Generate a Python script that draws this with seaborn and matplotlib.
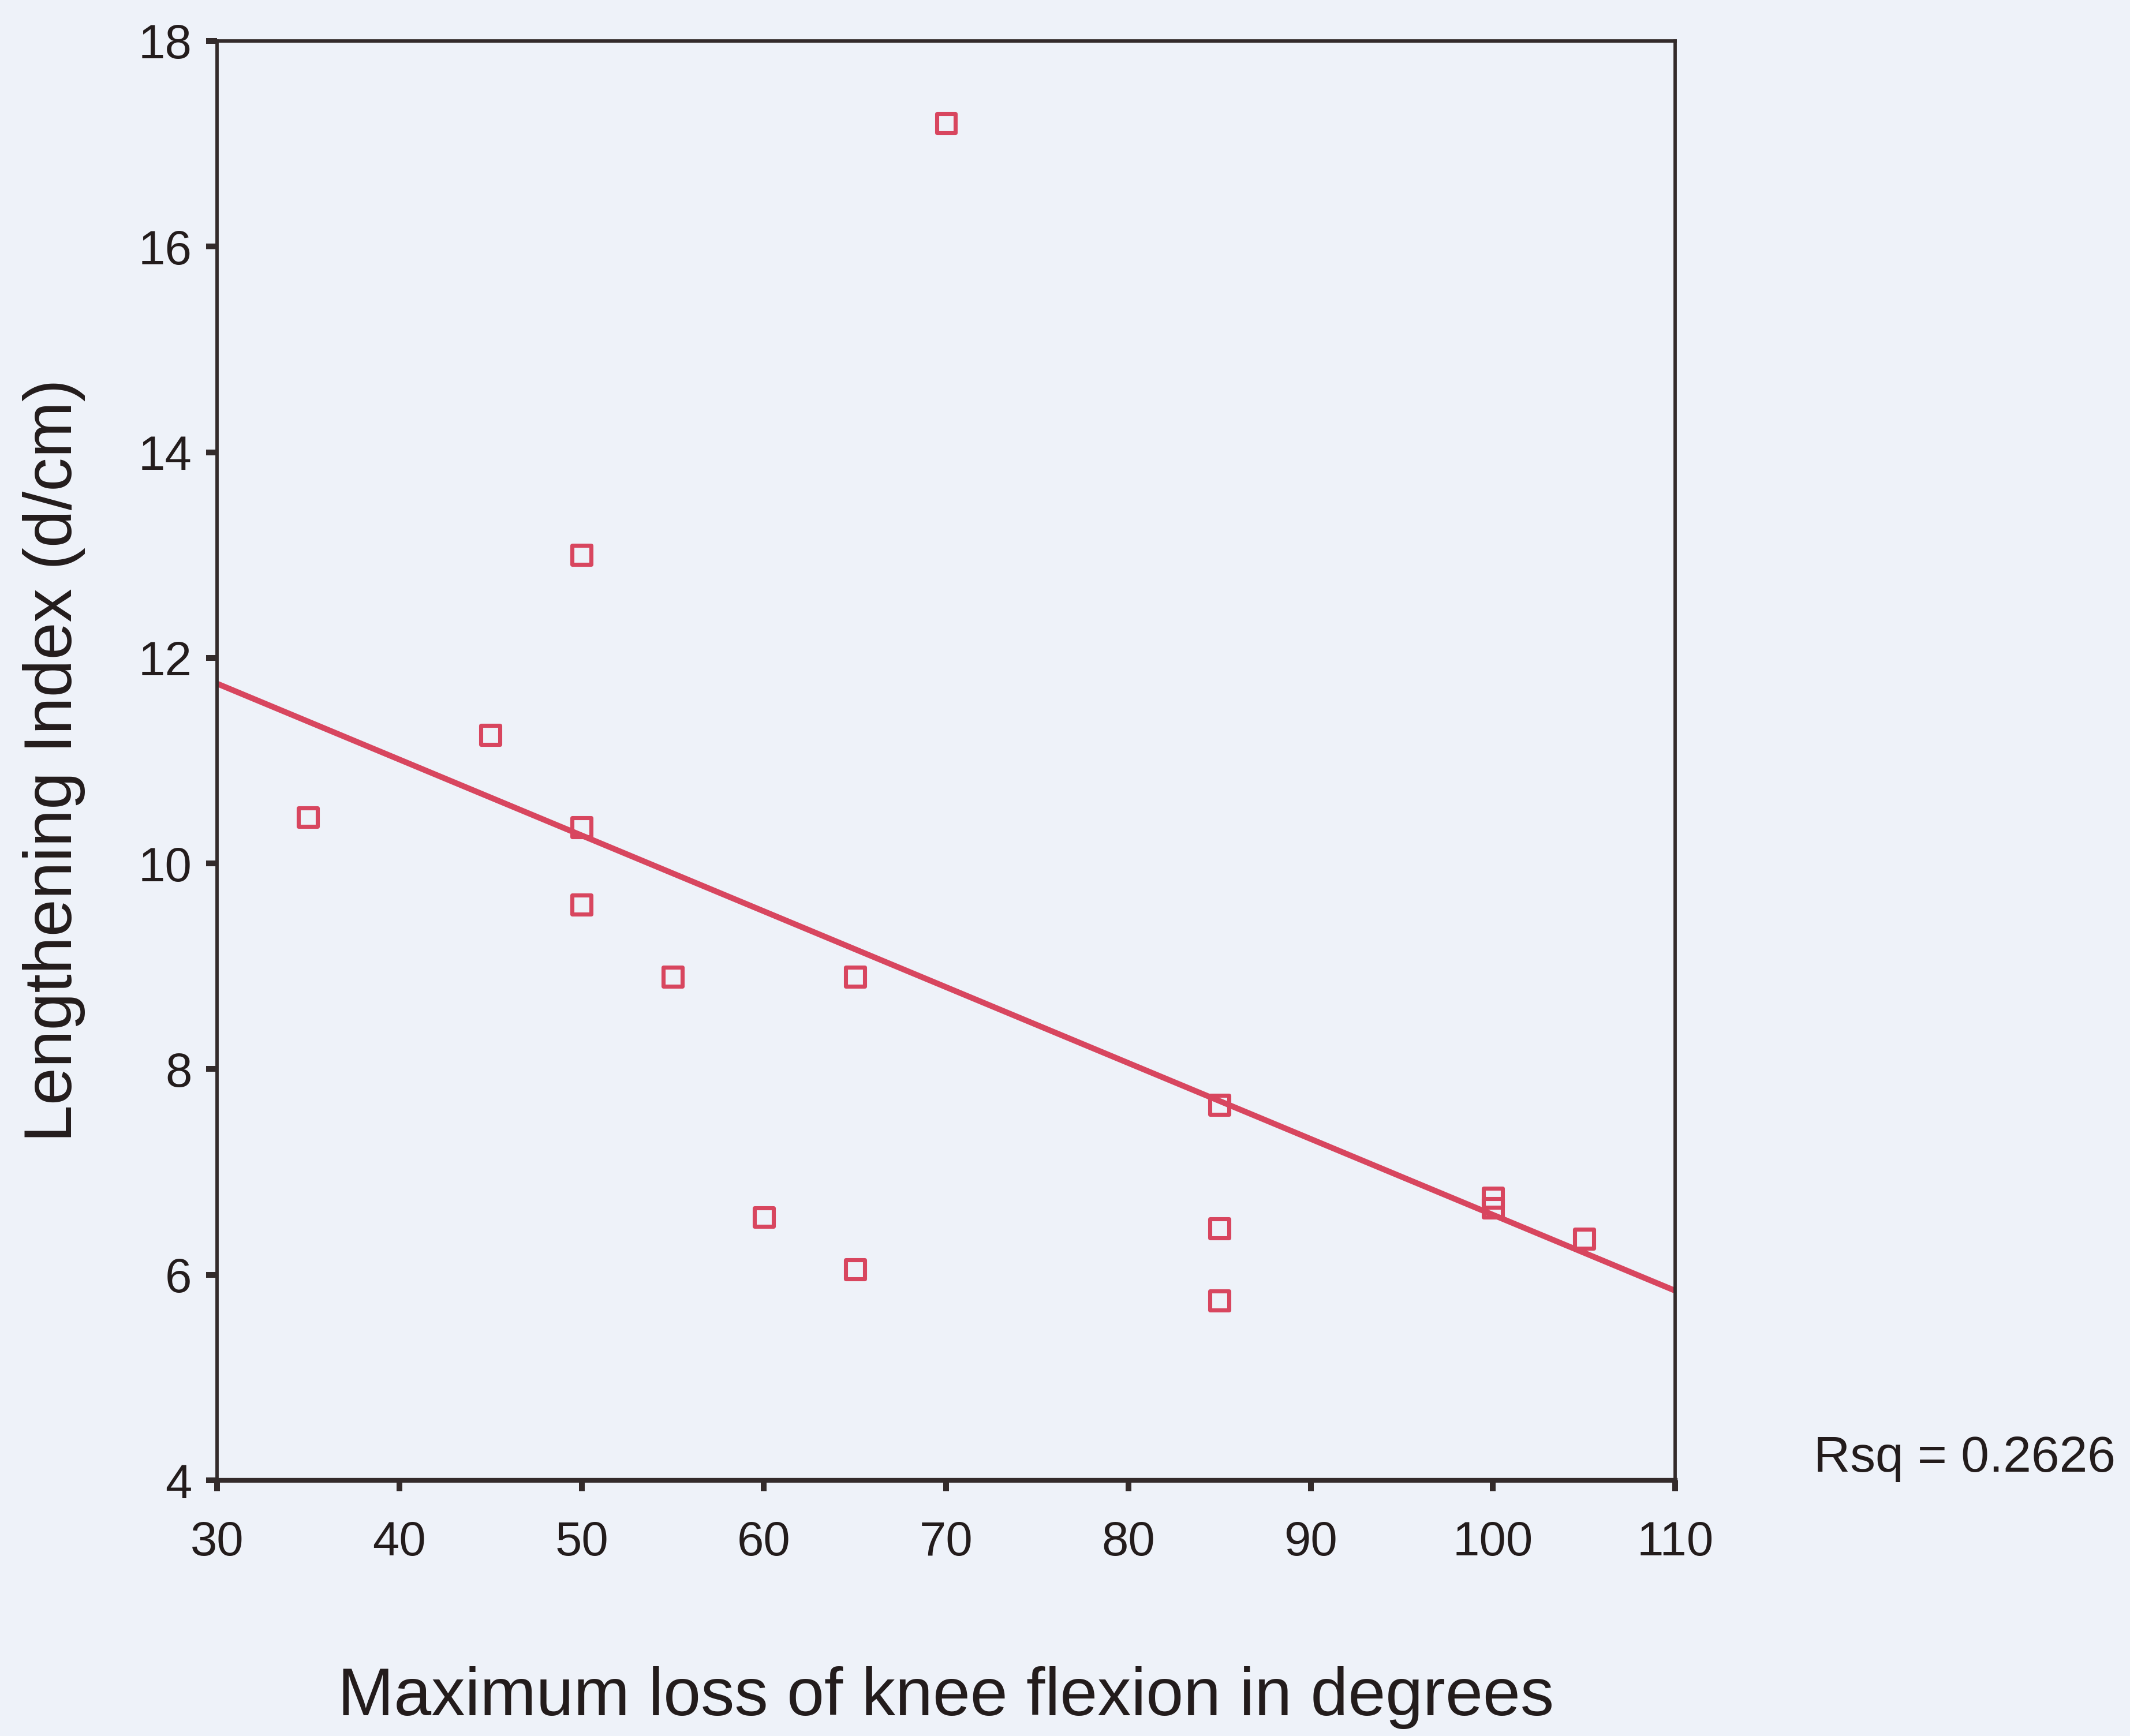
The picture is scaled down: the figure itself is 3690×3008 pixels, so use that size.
import matplotlib
matplotlib.use("Agg")
import matplotlib.pyplot as plt
import seaborn as sns
import pandas as pd

# Data
knee_flexion_loss = [35, 45, 50, 50, 50, 55, 60, 65, 65, 70, 85, 85, 85, 100, 100, 105]
lengthening_index = [10.45, 11.25, 13.0, 10.35, 9.6, 8.9, 6.56, 8.9, 6.05, 17.2, 7.65, 6.45, 5.75, 6.75, 6.65, 6.35]
x_ticks = [30, 40, 50, 60, 70, 80, 90, 100, 110]
y_ticks = [4, 6, 8, 10, 12, 14, 16, 18]
rsq_label = "Rsq = 0.2626"

df = pd.DataFrame({"x": knee_flexion_loss, "y": lengthening_index})

sns.set_theme(style="white")
plt.rcParams["font.family"] = ["Liberation Sans", "DejaVu Sans"]

bg = "#eef2f9"
red = "#d8465f"
dark = "#332b2b"
txt = "#231c1c"

fig = plt.figure(figsize=(12.3, 3008 / 300), dpi=300, facecolor=bg)
ax = fig.add_axes([376 / 3690, 443 / 3008, (2902 - 376) / 3690, (2565 - 71) / 3008])
ax.set_facecolor(bg)

ax.set_xlim(30, 110)
ax.set_ylim(4, 18)

sns.regplot(data=df, x="x", y="y", ax=ax, scatter=False, ci=None, truncate=False,
            line_kws={"color": red, "linewidth": 2.4})
sns.scatterplot(data=df, x="x", y="y", ax=ax, marker="s", s=62,
                facecolors="none", edgecolor=red, linewidth=1.7, zorder=3)

ax.set_xlim(30, 110)
ax.set_ylim(4, 18)
ax.set_xticks(x_ticks)
ax.set_yticks(y_ticks)

for side in ["left", "right", "top", "bottom"]:
    ax.spines[side].set_color(dark)
    ax.spines[side].set_linewidth(1.4)
    ax.spines[side].set_visible(True)
ax.spines["bottom"].set_linewidth(2.0)

ax.tick_params(axis="both", which="major", bottom=True, left=True, top=False, right=False,
               direction="out", length=4.5, width=2.4, color=dark,
               labelsize=20, labelcolor=txt, pad=6)
ax.tick_params(axis="x", pad=12)

ax.set_xlabel("Maximum loss of knee flexion in degrees", fontsize=28, color=txt, labelpad=42)
ax.set_ylabel("Lengthening Index (d/cm)", fontsize=28, color=txt, labelpad=22)

fig.text(3142 / 3690, 1 - 2528 / 3008, rsq_label, fontsize=21, color=txt,
         ha="left", va="center")

fig.savefig("out.png", dpi=300, facecolor=bg)
